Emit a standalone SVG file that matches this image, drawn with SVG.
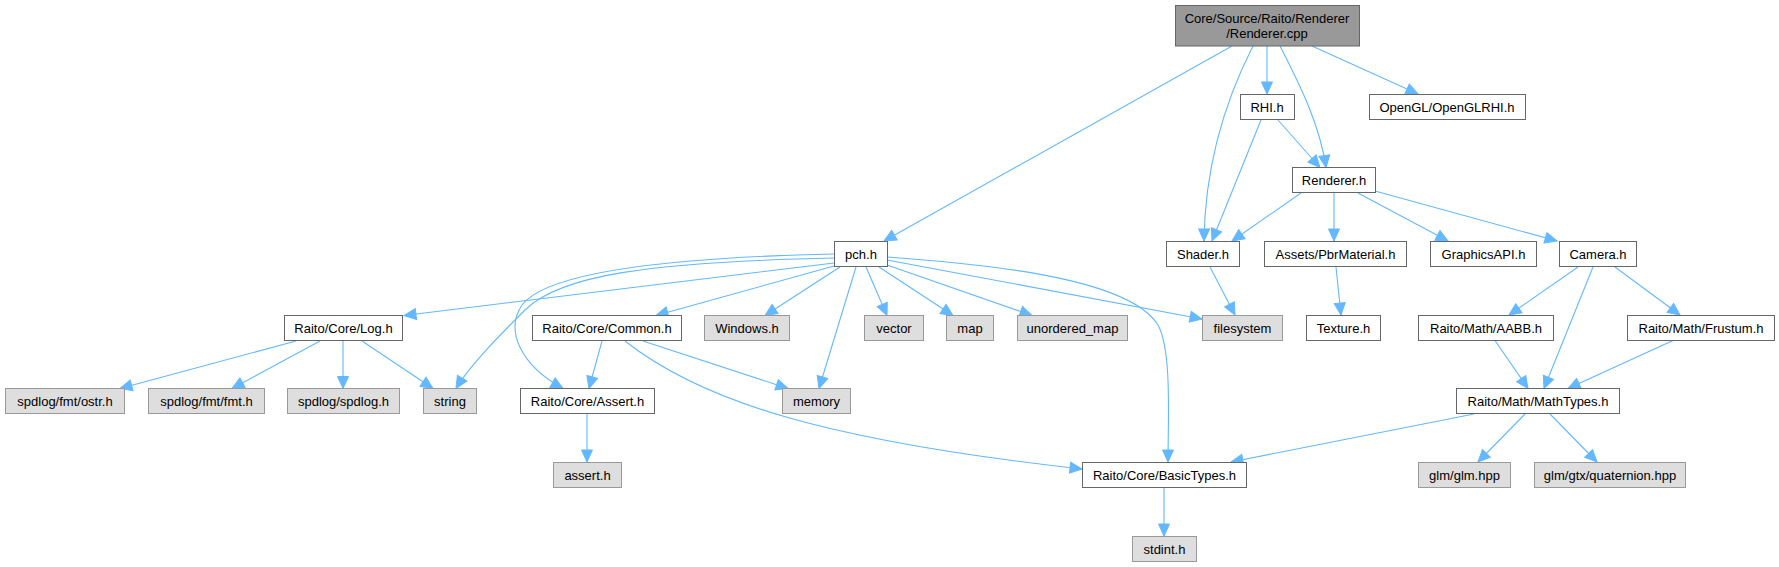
<svg xmlns="http://www.w3.org/2000/svg" width="1779" height="567" viewBox="0 0 1779 567">
<style>
.n rect{fill:#ffffff;stroke:#666666;stroke-width:1}
.x rect{fill:#dedede;stroke:#999999;stroke-width:1}
.r rect{fill:#999999;stroke:#666666;stroke-width:1}
text{font-family:"Liberation Sans",Arial,sans-serif;font-size:13px;fill:#000000;text-anchor:middle}
#edges path{fill:none;stroke:#63b8ff;stroke-width:1.1;marker-end:url(#a)}
</style>
<defs>
<marker id="a" markerWidth="13" markerHeight="11" refX="12" refY="5.5" orient="auto" markerUnits="userSpaceOnUse" overflow="visible">
<path d="M0,0 L12,5.5 L0,11 z" fill="#63b8ff" stroke="#63b8ff" stroke-width="1"/>
</marker>
</defs>
<rect width="1779" height="567" fill="#ffffff"/>
<g id="edges">
<path d="M1232,46 L884,241"/>
<path d="M1253,46 C1228,95 1205,160 1204,241"/>
<path d="M1267,46 L1267,94"/>
<path d="M1280,46 C1300,85 1320,125 1326,167.5"/>
<path d="M1312,46 L1418,94"/>
<path d="M1278,120 L1320,167.5"/>
<path d="M1261,120 L1212,241"/>
<path d="M1301,193 L1232,241"/>
<path d="M1334,193 L1334,241"/>
<path d="M1358,193 L1448,241"/>
<path d="M1375,191 L1557,241"/>
<path d="M1210,267 L1235,315"/>
<path d="M1336,267 L1341,315"/>
<path d="M1578,267 L1509,315"/>
<path d="M1593,267 L1544,388.5"/>
<path d="M1615,267 L1680,315"/>
<path d="M1495,340.5 L1528,388.5"/>
<path d="M1673,340.5 L1568,388.5"/>
<path d="M1474,414 L1231,462"/>
<path d="M1525,414 L1478,462"/>
<path d="M1550,414 L1597,462"/>
<path d="M1164,488 L1164,536"/>
<path d="M834,263 L404,315.5"/>
<path d="M834,258 C650,262 560,275 525,310 C500,335 470,365 456,388.5"/>
<path d="M834,254 C650,258 545,275 522,305 C505,330 520,365 563,388.5"/>
<path d="M834,266 L656,315.5"/>
<path d="M840,267 L765,315.5"/>
<path d="M856,267 L819,388.5"/>
<path d="M866,267 L887,315.5"/>
<path d="M879,267 L953,315.5"/>
<path d="M887,265 L1032,315.5"/>
<path d="M887,260 L1202,319"/>
<path d="M887,257 C1000,265 1130,280 1158,325 C1172,350 1168,420 1168,462"/>
<path d="M602,341 L589,388.5"/>
<path d="M643,341 L788,388.5"/>
<path d="M625,341 C700,400 820,440 1082,469"/>
<path d="M296,341 L120,388.5"/>
<path d="M320,341 L232,388.5"/>
<path d="M343,341 L343,388.5"/>
<path d="M362,341 L433,388.5"/>
<path d="M587,414 L587,462"/>
</g>
<g id="root" class="r"><rect x="1175.5" y="5.5" width="184" height="40.5"/><text x="1267" y="23">Core/Source/Raito/Renderer</text><text x="1267" y="38">/Renderer.cpp</text></g>
<g id="rhi" class="n"><rect x="1240.5" y="94.5" width="54" height="25"/><text x="1267" y="111.5">RHI.h</text></g>
<g id="openglrhi" class="n"><rect x="1369.5" y="94.5" width="156" height="25"/><text x="1447" y="111.5">OpenGL/OpenGLRHI.h</text></g>
<g id="rendererh" class="n"><rect x="1292.5" y="167.5" width="83" height="25"/><text x="1334" y="184.5">Renderer.h</text></g>
<g id="pch" class="n"><rect x="834.5" y="241.5" width="53" height="25"/><text x="861" y="258.5">pch.h</text></g>
<g id="shader" class="n"><rect x="1166.5" y="241.5" width="73" height="25"/><text x="1203" y="258.5">Shader.h</text></g>
<g id="pbr" class="n"><rect x="1264.5" y="241.5" width="142" height="25"/><text x="1335.5" y="258.5">Assets/PbrMaterial.h</text></g>
<g id="gapi" class="n"><rect x="1430.5" y="241.5" width="106" height="25"/><text x="1483.5" y="258.5">GraphicsAPI.h</text></g>
<g id="camera" class="n"><rect x="1559.5" y="241.5" width="77" height="25"/><text x="1598" y="258.5">Camera.h</text></g>
<g id="log" class="n"><rect x="284.5" y="315.5" width="118" height="25"/><text x="343.5" y="332.5">Raito/Core/Log.h</text></g>
<g id="common" class="n"><rect x="532.5" y="315.5" width="149" height="25"/><text x="607" y="332.5">Raito/Core/Common.h</text></g>
<g id="windows" class="x"><rect x="704.5" y="315.5" width="85" height="25"/><text x="747" y="332.5">Windows.h</text></g>
<g id="vector" class="x"><rect x="864.5" y="315.5" width="59" height="25"/><text x="894" y="332.5">vector</text></g>
<g id="map" class="x"><rect x="946.5" y="315.5" width="47" height="25"/><text x="970" y="332.5">map</text></g>
<g id="umap" class="x"><rect x="1017.5" y="315.5" width="110" height="25"/><text x="1072.5" y="332.5">unordered_map</text></g>
<g id="filesystem" class="x"><rect x="1202.5" y="315.5" width="80" height="25"/><text x="1242.5" y="332.5">filesystem</text></g>
<g id="texture" class="n"><rect x="1306.5" y="315.5" width="74" height="25"/><text x="1343.5" y="332.5">Texture.h</text></g>
<g id="aabb" class="n"><rect x="1418.5" y="315.5" width="135" height="25"/><text x="1486" y="332.5">Raito/Math/AABB.h</text></g>
<g id="frustum" class="n"><rect x="1627.5" y="315.5" width="147" height="25"/><text x="1701" y="332.5">Raito/Math/Frustum.h</text></g>
<g id="ostr" class="x"><rect x="5.5" y="388.5" width="119" height="25"/><text x="65" y="405.5">spdlog/fmt/ostr.h</text></g>
<g id="fmt" class="x"><rect x="148.5" y="388.5" width="116" height="25"/><text x="206.5" y="405.5">spdlog/fmt/fmt.h</text></g>
<g id="spdlog" class="x"><rect x="287.5" y="388.5" width="112" height="25"/><text x="343.5" y="405.5">spdlog/spdlog.h</text></g>
<g id="string" class="x"><rect x="423.5" y="388.5" width="53" height="25"/><text x="450" y="405.5">string</text></g>
<g id="assert" class="n"><rect x="520.5" y="388.5" width="134" height="25"/><text x="587.5" y="405.5">Raito/Core/Assert.h</text></g>
<g id="memory" class="x"><rect x="782.5" y="388.5" width="68" height="25"/><text x="816.5" y="405.5">memory</text></g>
<g id="mathtypes" class="n"><rect x="1456.5" y="388.5" width="163" height="25"/><text x="1538" y="405.5">Raito/Math/MathTypes.h</text></g>
<g id="asserth" class="x"><rect x="553.5" y="462.5" width="68" height="25"/><text x="587.5" y="479.5">assert.h</text></g>
<g id="basictypes" class="n"><rect x="1082.5" y="462.5" width="164" height="25"/><text x="1164.5" y="479.5">Raito/Core/BasicTypes.h</text></g>
<g id="glm" class="x"><rect x="1418.5" y="462.5" width="92" height="25"/><text x="1464.5" y="479.5">glm/glm.hpp</text></g>
<g id="quat" class="x"><rect x="1534.5" y="462.5" width="151" height="25"/><text x="1610" y="479.5">glm/gtx/quaternion.hpp</text></g>
<g id="stdint" class="x"><rect x="1132.5" y="536.5" width="64" height="25"/><text x="1164.5" y="553.5">stdint.h</text></g>
</svg>
